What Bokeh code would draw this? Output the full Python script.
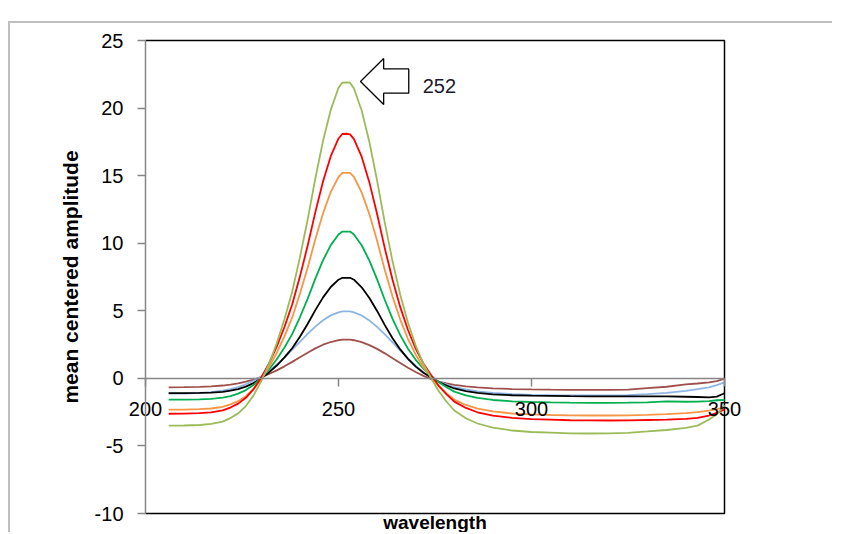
from bokeh.plotting import figure
from bokeh.models import Range1d, FixedTicker, Label
from bokeh.embed import file_html
from bokeh.resources import INLINE

# ---- data ----
wavelength = [206, 210, 214, 217, 220, 222, 224, 226, 228, 230, 232, 234, 236, 238, 240, 242, 244, 246, 248, 250, 251, 252, 253,
              254, 256, 258, 260, 262, 264, 266, 268, 270, 272, 274, 276, 278, 280,
              283, 286, 290, 295, 300, 305, 310, 315, 320, 325, 330, 335, 340, 343, 346, 348, 350]

s_brown = [-0.66, -0.65, -0.63, -0.59, -0.53, -0.46, -0.37, -0.25, -0.10, 0.09, 0.32, 0.59, 0.89, 1.22, 1.56, 1.90, 2.22, 2.49, 2.69, 2.82, 2.86, 2.87, 2.86,
           2.82, 2.68, 2.46, 2.18, 1.85, 1.49, 1.14, 0.79, 0.47, 0.18, -0.06, -0.24, -0.37, -0.48,
           -0.59, -0.67, -0.74, -0.79, -0.82, -0.84, -0.85, -0.85, -0.85, -0.83, -0.72, -0.62, -0.45, -0.38, -0.30, -0.20, -0.02]
s_blue = [-1.13, -1.12, -1.08, -1.02, -0.91, -0.80, -0.65, -0.44, -0.18, 0.15, 0.55, 1.02, 1.54, 2.12, 2.70, 3.29, 3.83, 4.30, 4.66, 4.88, 4.95, 4.96, 4.95,
          4.88, 4.65, 4.28, 3.81, 3.26, 2.66, 2.06, 1.48, 0.94, 0.46, 0.06, -0.23, -0.46, -0.64,
          -0.82, -0.96, -1.07, -1.17, -1.22, -1.25, -1.26, -1.26, -1.26, -1.24, -1.17, -1.08, -0.92, -0.80, -0.66, -0.50, -0.30]
s_black = [-1.10, -1.10, -1.08, -1.06, -1.00, -0.91, -0.79, -0.61, -0.35, 0.01, 0.44, 0.95, 1.55, 2.23, 3.08, 4.02, 5.05, 5.99, 6.76, 7.30, 7.44, 7.44, 7.44,
           7.30, 6.74, 5.95, 4.99, 3.94, 2.97, 2.14, 1.44, 0.87, 0.41, 0.06, -0.27, -0.53, -0.75,
           -0.94, -1.07, -1.18, -1.25, -1.28, -1.30, -1.32, -1.33, -1.33, -1.33, -1.33, -1.34, -1.36, -1.38, -1.40, -1.35, -1.10]
s_green = [-1.58, -1.57, -1.56, -1.52, -1.43, -1.31, -1.13, -0.87, -0.49, 0.04, 0.66, 1.41, 2.28, 3.27, 4.52, 5.88, 7.38, 8.75, 9.86, 10.65, 10.86, 10.86, 10.86,
           10.65, 9.85, 8.71, 7.32, 5.80, 4.40, 3.20, 2.19, 1.37, 0.71, 0.19, -0.28, -0.66, -0.98,
           -1.26, -1.45, -1.60, -1.70, -1.75, -1.78, -1.80, -1.81, -1.81, -1.80, -1.78, -1.70, -1.73, -1.72, -1.68, -1.62, -1.60]
s_orange = [-2.32, -2.31, -2.28, -2.23, -2.11, -1.93, -1.69, -1.32, -0.78, -0.04, 0.83, 1.88, 3.11, 4.51, 6.26, 8.19, 10.29, 12.22, 13.80, 14.90, 15.20, 15.20, 15.20,
            14.90, 13.76, 12.15, 10.18, 8.02, 6.05, 4.35, 2.91, 1.75, 0.81, 0.08, -0.59, -1.13, -1.57,
            -1.97, -2.24, -2.45, -2.60, -2.67, -2.71, -2.74, -2.75, -2.75, -2.74, -2.70, -2.65, -2.58, -2.50, -2.38, -2.28, -2.15]
s_red = [-2.62, -2.61, -2.58, -2.52, -2.37, -2.16, -1.87, -1.44, -0.80, 0.07, 1.11, 2.35, 3.80, 5.46, 7.53, 9.81, 12.30, 14.58, 16.44, 17.75, 18.08, 18.10, 18.05,
         17.70, 16.40, 14.50, 12.16, 9.62, 7.29, 5.27, 3.58, 2.20, 1.10, 0.23, -0.56, -1.19, -1.72,
         -2.19, -2.51, -2.76, -2.93, -3.02, -3.06, -3.10, -3.11, -3.12, -3.11, -3.08, -3.05, -3.00, -2.92, -2.75, -2.55, -2.30]
s_lime = [-3.50, -3.49, -3.45, -3.37, -3.20, -2.94, -2.59, -2.05, -1.26, -0.20, 1.07, 2.60, 4.37, 6.41, 8.95, 11.74, 14.79, 17.58, 19.87, 21.50, 21.88, 21.90, 21.88,
          21.45, 19.82, 17.49, 14.63, 11.51, 8.66, 6.19, 4.11, 2.42, 1.07, 0.01, -0.95, -1.73, -2.38,
          -2.95, -3.34, -3.65, -3.86, -3.97, -4.02, -4.07, -4.08, -4.07, -4.03, -3.93, -3.82, -3.66, -3.50, -3.05, -2.65, -2.00]

series = [s_brown, s_blue, s_black, s_green, s_orange, s_red, s_lime]
colors = ["#A0504C", "#8DB4E2", "#000000", "#00B050", "#F79646", "#FF0000", "#9BBB59"]

x_ticks = [200, 250, 300, 350]
x_tick_labels = ["200", "250", "300", "350"]
y_ticks = [-10, -5, 0, 5, 10, 15, 20, 25]
y_tick_labels = ["-10", "-5", "0", "5", "10", "15", "20", "25"]

FONT = "Liberation Sans"
GRAY = "#868686"

# ---- layout: the frame fills the whole canvas; the plot box is drawn in data space ----
W, H = 824, 511
box_left, box_top, box_w, box_h = 135, 17, 579, 473        # plot-box position inside the canvas (px)
x0, x1 = x_ticks[0], x_ticks[-1]
y0, y1 = y_ticks[0], y_ticks[-1]
kx = box_w / (x1 - x0)
ky = box_h / (y1 - y0)
x_range = Range1d(x0 - box_left / kx, x0 + (W - box_left) / kx)
y_range = Range1d(y1 - (H - box_top) / ky, y1 + box_top / ky)

p = figure(width=W, height=H, x_range=x_range, y_range=y_range,
           output_backend="svg", toolbar_location=None, title=None,
           min_border_left=0, min_border_right=0, min_border_top=0, min_border_bottom=0)
p.margin = (21, 0, 0, 8)
p.styles = {"border-top": "2px solid #BFBFBF", "border-left": "2px solid #BFBFBF"}
p.background_fill_color = "white"
p.border_fill_color = "white"
p.xgrid.visible = False
p.ygrid.visible = False
p.outline_line_color = None

# plot-area border (top, right, bottom)
p.line([x0, x1, x1, x0], [y1, y1, y0, y0], line_color="#000000", line_width=1.5)

xa = p.xaxis[0]
xa.fixed_location = 0
xa.bounds = (x0, x1)
xa.ticker = FixedTicker(ticks=x_ticks)
xa.major_label_overrides = {t: l for t, l in zip(x_ticks, x_tick_labels)}
xa.axis_line_color = GRAY
xa.axis_line_width = 1.5
xa.major_tick_line_color = GRAY
xa.major_tick_line_width = 1.5
xa.major_tick_in = 0
xa.major_tick_out = 8
xa.minor_tick_in = 0
xa.minor_tick_out = 0
xa.major_label_standoff = 16
xa.major_label_text_font = FONT
xa.major_label_text_font_size = "20px"
xa.major_label_text_color = "#000000"

ya = p.yaxis[0]
ya.fixed_location = x0
ya.bounds = (y0, y1)
ya.ticker = FixedTicker(ticks=y_ticks)
ya.major_label_overrides = {t: l for t, l in zip(y_ticks, y_tick_labels)}
ya.axis_line_color = GRAY
ya.axis_line_width = 1.5
ya.major_tick_line_color = GRAY
ya.major_tick_line_width = 1.5
ya.major_tick_in = 0
ya.major_tick_out = 8
ya.minor_tick_in = 0
ya.minor_tick_out = 0
ya.major_label_standoff = 14
ya.major_label_text_font = FONT
ya.major_label_text_font_size = "20px"
ya.major_label_text_color = "#000000"
ya.axis_label = "mean centered amplitude"
ya.axis_label_text_font = FONT
ya.axis_label_text_font_size = "21px"
ya.axis_label_text_font_style = "bold"
ya.axis_label_text_color = "#000000"
ya.axis_label_standoff = 10

for s, c in zip(series, colors):
    p.line(wavelength, s, line_color=c, line_width=1.8)

# annotation arrow pointing at the main peak
peak_val = max(s_lime)
peak_wl = wavelength[s_lime.index(peak_val)]
ax = [peak_wl + 3.7, peak_wl + 9.7, peak_wl + 9.7, peak_wl + 16.2, peak_wl + 16.2, peak_wl + 9.7, peak_wl + 9.7]
ay = [peak_val + 0.07, peak_val + 1.77, peak_val + 1.0, peak_val + 1.0, peak_val - 0.8, peak_val - 0.8, peak_val - 1.64]
p.patch(ax, ay, fill_color="white", line_color="#000000", line_width=1.3)

p.add_layout(Label(x=peak_wl + 19.8, y=peak_val - 0.23, text=str(peak_wl), text_align="left",
                   text_baseline="middle", text_font=FONT, text_font_size="20px", text_color="#1a1a2a"))

p.add_layout(Label(x=(x0 + x1) / 2, y=y0, y_offset=1.5, text="wavelength", text_align="center",
                   text_baseline="top", text_font=FONT, text_font_size="19px",
                   text_font_style="bold", text_color="#000000"))

open("out.html", "w").write(file_html(p, INLINE))
